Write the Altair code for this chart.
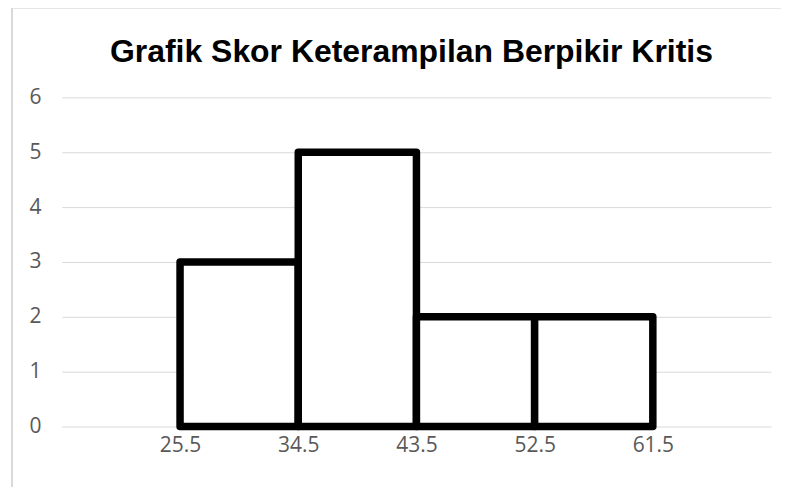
import altair as alt
import pandas as pd

bin_start = [25.5, 34.5, 43.5, 52.5]
bin_end = [34.5, 43.5, 52.5, 61.5]
counts = [3, 5, 2, 2]
x_ticks = [25.5, 34.5, 43.5, 52.5, 61.5]
y_ticks = [0, 1, 2, 3, 4, 5, 6]
title = "Grafik Skor Keterampilan Berpikir Kritis"

df = pd.DataFrame({"start": bin_start, "end": bin_end, "count": counts})

x_scale = alt.Scale(domain=[16.5, 70.5], nice=False, zero=False)
y_scale = alt.Scale(domain=[0, 6], nice=False)

bars = alt.Chart(df).mark_rect(
    fill="white", stroke="black", strokeWidth=7.5, strokeJoin="round"
).encode(
    x=alt.X("start:Q", scale=x_scale,
            axis=alt.Axis(values=x_ticks, title=None, grid=False, domain=False,
                          ticks=False, labelPadding=8, labelFontSize=21,
                          labelFont="Open Sans", labelColor="#595959",
                          labelFlush=False, format=".1f")),
    x2="end:Q",
    y=alt.Y("count:Q", scale=y_scale,
            axis=alt.Axis(values=y_ticks, title=None, grid=True, gridColor="#d9d9d9",
                          gridWidth=1, domain=False, ticks=False, labelPadding=21,
                          labelFontSize=21, labelFont="Open Sans", labelColor="#595959")),
    y2=alt.datum(0),
)

border_left = alt.Chart(df).mark_rule(color="#d9d9d9", strokeWidth=1.5).encode(
    x=alt.value(-50), y=alt.value(-90), y2=alt.value(400)
)
border_top = alt.Chart(df).mark_rule(color="#d9d9d9", strokeWidth=1.5).encode(
    x=alt.value(-50), x2=alt.value(800), y=alt.value(-90)
)

chart = alt.layer(border_left, border_top, bars).properties(
    width=711,
    height=330,
    autosize=alt.AutoSizeParams(type="none"),
    padding={"left": 54, "top": 89, "right": 10, "bottom": 60},
    title=alt.TitleParams(title, font="Liberation Sans", fontSize=32, fontWeight="bold",
                          color="black", anchor="middle", frame="group",
                          baseline="alphabetic", offset=0, dy=87, dx=-5),
).configure_view(stroke=None)

chart.save("out.html", embed_options={"renderer": "svg", "actions": False})
